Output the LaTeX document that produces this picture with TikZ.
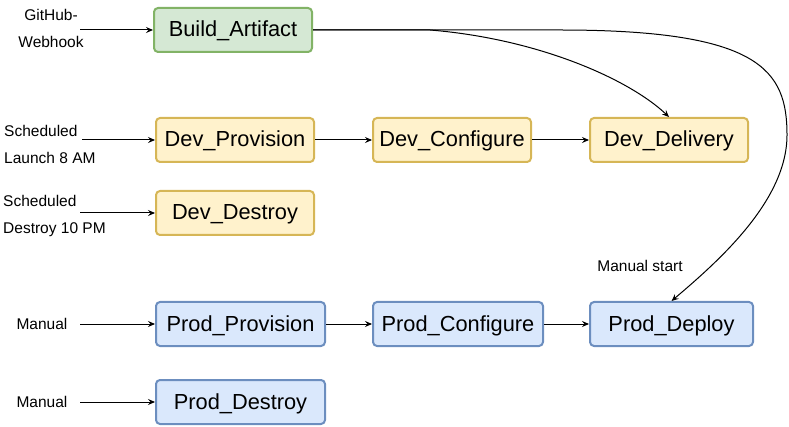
\documentclass[tikz,border=0pt]{standalone}
\usepackage{fontspec}
\setmainfont{Liberation Sans}
\usetikzlibrary{arrows.meta}
\definecolor{greenfill}{HTML}{D5E8D4}
\definecolor{greenline}{HTML}{82B366}
\definecolor{yellowfill}{HTML}{FFF2CC}
\definecolor{yellowline}{HTML}{D6B656}
\definecolor{bluefill}{HTML}{DAE8FC}
\definecolor{blueline}{HTML}{6C8EBF}
\begin{document}
\begin{tikzpicture}[x=1pt,y=-1pt,
	job/.style={draw,line width=2pt,rounded corners=4pt,minimum height=44pt,inner sep=0pt,text height=18pt,text depth=4pt,font=\fontsize{21.8}{24}\selectfont},
	artjob/.style={job,draw=greenline,fill=greenfill},
	devjob/.style={job,draw=yellowline,fill=yellowfill},
	prodjob/.style={job,draw=blueline,fill=bluefill},
	trigger/.style={inner sep=0pt,font=\fontsize{15.5}{27}\selectfont},
	flow/.style={line width=1pt,-{Stealth[length=7pt,width=6pt,inset=2.5pt]}}]
	\useasboundingbox (0,0) rectangle (789,427);
	\node[artjob,minimum width=158pt] (art) at (233,30) {Build\_Artifact};
	\node[devjob,minimum width=158pt] (dprov) at (235,140) {Dev\_Provision};
	\node[devjob,minimum width=158pt] (dconf) at (452,140) {Dev\_Configure};
	\node[devjob,minimum width=158pt] (ddel) at (669,140) {Dev\_Delivery};
	\node[devjob,minimum width=158pt] (ddes) at (235,213) {Dev\_Destroy};
	\node[prodjob,minimum width=169pt] (pprov) at (240.5,324) {Prod\_Provision};
	\node[prodjob,minimum width=170pt] (pconf) at (458,324) {Prod\_Configure};
	\node[prodjob,minimum width=163pt] (pdep) at (671.5,324) {Prod\_Deploy};
	\node[prodjob,minimum width=169pt] (pdes) at (240.5,402) {Prod\_Destroy};
	% triggers
	\node[trigger,align=center] (hook) at (51,28) {GitHub-\\Webhook};
	\node[trigger,align=left,anchor=west] (launch) at (4,144) {Scheduled\\Launch 8 AM};
	\node[trigger,align=left,anchor=west] (destroy) at (3,216) {Scheduled\\Destroy 10 PM};
	\node[trigger] (man1) at (42,324) {Manual};
	\node[trigger] (man2) at (42,402) {Manual};
	\node[trigger] (mstart) at (640,266) {Manual start};
	\coordinate (hookout) at (80,30);
	\coordinate (launchout) at (82,140);
	\coordinate (destroyout) at (80,213);
	\coordinate (man1out) at (80,324);
	\coordinate (man2out) at (80,402);
	\draw[flow] (hookout) -- (art);
	\draw[flow] (launchout) -- (dprov);
	\draw[flow] (destroyout) -- (ddes);
	\draw[flow] (man1out) -- (pprov);
	\draw[flow] (man2out) -- (pdes);
	% pipeline
	\draw[flow] (dprov) -- (dconf);
	\draw[flow] (dconf) -- (ddel);
	\draw[flow] (pprov) -- (pconf);
	\draw[flow] (pconf) -- (pdep);
	\draw[flow] (art.east) -- (430,30) .. controls (540,39) and (630,80) .. (ddel.north);
	\draw[flow] (art.east) -- (560,30) .. controls (760,30) and (787,70) .. (787,135) .. controls (787,200) and (720,260) .. (pdep.north);
\end{tikzpicture}
\end{document}
